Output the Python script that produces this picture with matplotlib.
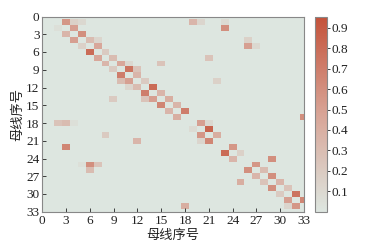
import numpy as np
import matplotlib
matplotlib.use("Agg")
import matplotlib.pyplot as plt
from matplotlib.colors import LinearSegmentedColormap

n_bus = 34
tick_vals = list(range(0, 34, 3))
cbar_ticks = [0.1, 0.2, 0.3, 0.4, 0.5, 0.6, 0.7, 0.8, 0.9]
xlabel = "母线序号"
ylabel = "母线序号"

rows = [1, 1, 1, 1, 1, 1,
        2, 2, 2,
        3, 3,
        4, 4, 4, 4,
        5, 5, 5, 5,
        6, 6,
        7, 7, 7,
        8, 8, 8, 8,
        9, 9, 9,
        10, 10,
        11, 11, 11, 11,
        12, 12, 12,
        13, 13,
        14, 14, 14, 14,
        15, 15,
        16, 16,
        17, 17,
        18, 18, 18, 18, 18,
        19, 19,
        20, 20, 20,
        21, 21, 21,
        22, 22,
        23, 23,
        24, 24,
        25, 25, 25, 25,
        26, 26, 26,
        27, 27,
        28, 28, 28,
        29, 29,
        30, 30,
        31, 31,
        32, 32, 32]
cols = [3, 4, 5, 19, 20, 23,
        2, 4, 23,
        3, 5,
        4, 6, 7, 26,
        5, 7, 26, 27,
        6, 8,
        7, 9, 21,
        8, 10, 11, 15,
        9, 11, 12,
        10, 12,
        10, 11, 13, 22,
        11, 12, 14,
        13, 15,
        9, 13, 14, 16,
        15, 17,
        16, 18,
        17, 33,
        2, 3, 4, 20, 21,
        19, 21,
        8, 20, 22,
        12, 20, 21,
        3, 24,
        23, 25,
        24, 29,
        5, 6, 7, 27,
        6, 26, 28,
        27, 29,
        25, 28, 30,
        29, 31,
        30, 32,
        31, 33,
        18, 31, 32]
vals = [0.55, 0.15, 0.10, 0.35, 0.12, 0.08,
        0.05, 0.50, 0.60,
        0.35, 0.60,
        0.50, 0.30, 0.12, 0.15,
        0.15, 0.45, 0.50, 0.10,
        0.80, 0.20,
        0.45, 0.30, 0.25,
        0.35, 0.45, 0.10, 0.25,
        0.20, 0.75, 0.25,
        0.70, 0.35,
        0.30, 0.50, 0.20, 0.15,
        0.12, 0.30, 0.80,
        0.70, 0.35,
        0.20, 0.25, 0.50, 0.40,
        0.65, 0.35,
        0.35, 0.70,
        0.40, 0.60,
        0.25, 0.30, 0.05, 0.50, 0.10,
        0.08, 0.85,
        0.20, 0.55, 0.40,
        0.35, 0.12, 0.65,
        0.65, 0.55,
        0.80, 0.15,
        0.35, 0.60,
        0.05, 0.60, 0.25, 0.55,
        0.30, 0.60, 0.30,
        0.35, 0.60,
        0.40, 0.25, 0.35,
        0.60, 0.25,
        0.20, 0.75,
        0.50, 0.65,
        0.40, 0.12, 0.55]

mat = np.zeros((n_bus, n_bus))
for r, c, v in zip(rows, cols, vals):
    mat[r, c] = v

plt.rcParams['font.family'] = ['Liberation Serif', 'Noto Sans CJK SC']

cmap = LinearSegmentedColormap.from_list("gr", ["#dde6e0", "#d8a496", "#c4523a"])

fig = plt.figure(figsize=(3.69, 2.5), dpi=100)
ax = fig.add_axes([0.1144, 0.153, 0.7096, 0.781])
im = ax.imshow(mat, cmap=cmap, vmin=0, vmax=0.955, aspect='auto',
               extent=(-0.5, n_bus - 0.5, n_bus - 0.5, -0.5),
               interpolation='nearest')
ax.set_xlim(0, 33)
ax.set_ylim(33, 0)
ax.set_xticks(tick_vals)
ax.set_yticks(tick_vals)
ax.tick_params(direction='in', length=3, width=0.6, labelsize=9.5,
               colors='#222222', pad=2)
for s in ax.spines.values():
    s.set_color('#888888')
    s.set_linewidth(0.8)
ax.set_xlabel(xlabel, fontsize=9.5, color='#222222', labelpad=2)
ax.set_ylabel(ylabel, fontsize=9.5, color='#222222', labelpad=1)

cax = fig.add_axes([0.8537, 0.153, 0.0333, 0.781])
cb = fig.colorbar(im, cax=cax, ticks=cbar_ticks)
cb.outline.set_edgecolor('#888888')
cb.outline.set_linewidth(0.8)
cax.tick_params(labelsize=9.5, colors='#222222', length=2, width=0.6, pad=1)

fig.savefig("out.png", dpi=100)
